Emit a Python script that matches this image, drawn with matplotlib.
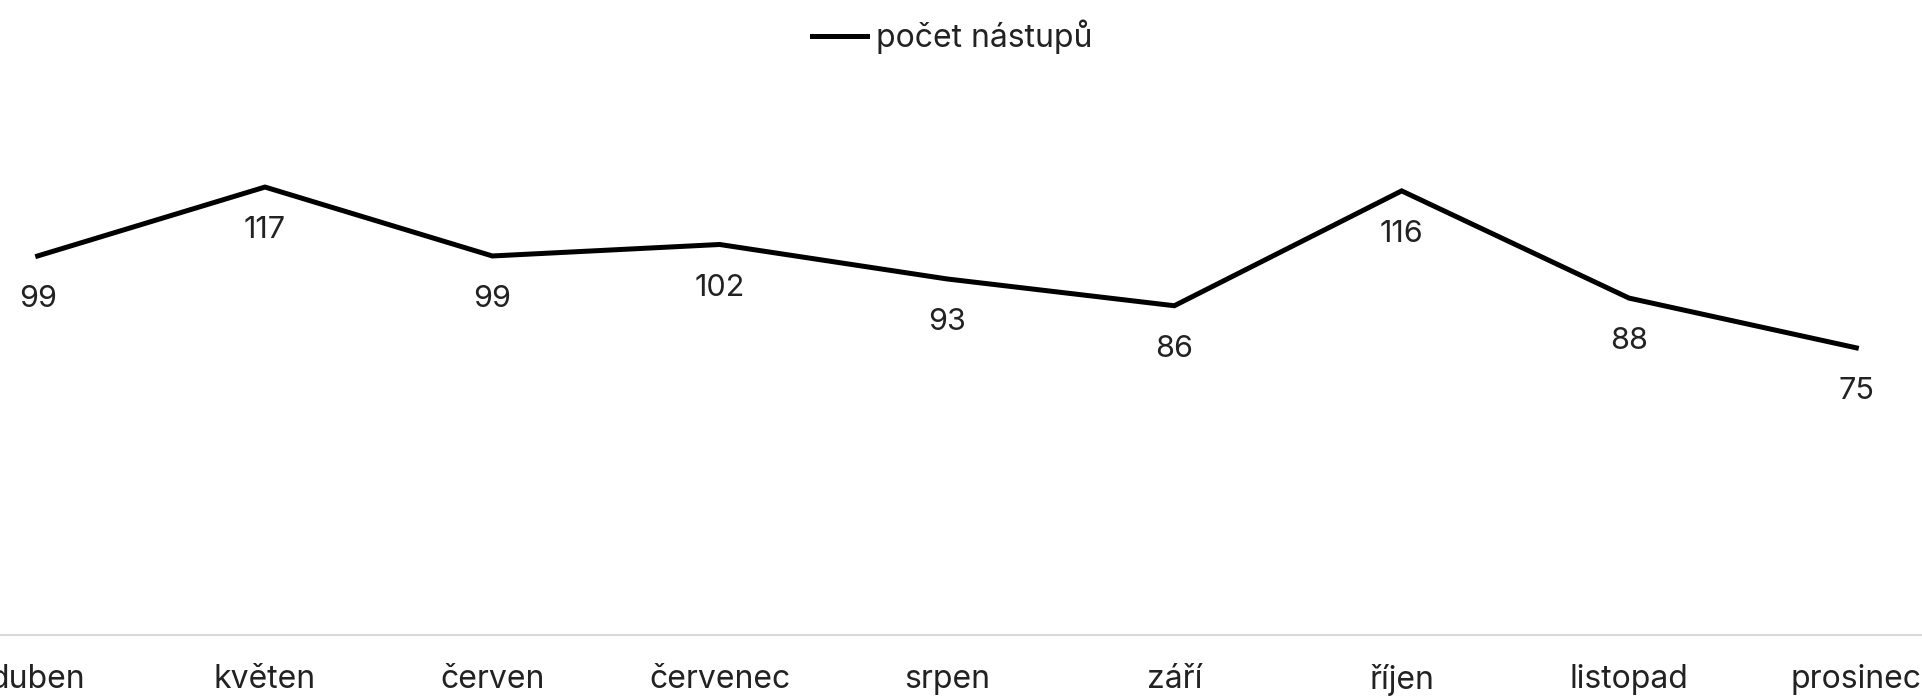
import matplotlib.pyplot as plt

plt.rcParams["font.family"] = ["Inter", "DejaVu Sans"]

# ---- Data ----
months = ["duben", "květen", "červen", "červenec", "srpen", "září", "říjen", "listopad", "prosinec"]
starts = [99, 117, 99, 102, 93, 86, 116, 88, 75]

fig = plt.figure(figsize=(19.22, 6.98), dpi=100)
# the plot area runs past both edges of the image (points sit in the middle of each category)
ax = fig.add_axes([-76 / 1922, 1 - 635 / 698, 2046 / 1922, 536 / 698])

x = list(range(len(months)))
ax.plot(x, starts, color="black", linewidth=3.6, label="počet nástupů", solid_joinstyle="miter")

for xi, v in zip(x, starts):
    ax.annotate(str(v), (xi, v), xytext=(0, -31), textcoords="offset points",
                ha="center", va="center", fontsize=22, color="#222222")

ax.set_xlim(-0.5, len(months) - 0.5)
ax.set_ylim(0, 140)
ax.set_xticks(x)
ax.set_xticklabels(months, fontsize=23, color="#222222")
ax.tick_params(axis="x", length=0, pad=21)
ax.set_yticks([])

for side in ["top", "left", "right"]:
    ax.spines[side].set_visible(False)
ax.spines["bottom"].set_color("#d9d9d9")
ax.spines["bottom"].set_linewidth(1.5)

fig.legend(loc="center", bbox_to_anchor=(0.4955, 1 - 37 / 698), frameon=False,
           fontsize=23, handlelength=1.7, handletextpad=0.3, labelcolor="#222222")

fig.savefig("out.png", dpi=100)
